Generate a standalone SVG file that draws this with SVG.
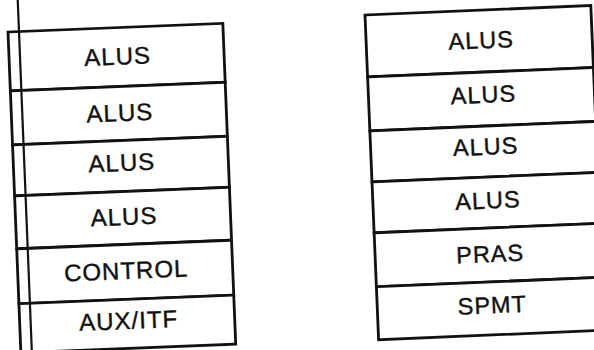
<svg xmlns="http://www.w3.org/2000/svg" width="594" height="350" viewBox="0 0 594 350">
<style>
  .cell rect { fill: #ffffff; stroke: #111; stroke-width: 2.8; }
  .cell text { font-family: "Liberation Sans", Arial, sans-serif; font-size: 24px; fill: #111; stroke: #111; stroke-width: 0.4; text-anchor: middle; letter-spacing: 1px; }
  .right .cell text { font-size: 23.5px; }
  .bus { stroke: #111; stroke-width: 2.2; fill: none; }
</style>
<rect x="0" y="0" width="594" height="350" fill="#ffffff"/>
<g id="left-stack" transform="translate(8,32) rotate(-2.3)">
  <g id="l-alus-1" class="cell"><rect x="0" y="0" width="215" height="59"/><text x="108.5" y="37">ALUS</text></g>
  <g id="l-alus-2" class="cell"><rect x="0" y="59" width="215" height="54"/><text x="108.5" y="93.5">ALUS</text></g>
  <g id="l-alus-3" class="cell"><rect x="0" y="113" width="215" height="51"/><text x="108.5" y="143.5">ALUS</text></g>
  <g id="l-alus-4" class="cell"><rect x="0" y="164" width="215" height="53"/><text x="108.5" y="197.5">ALUS</text></g>
  <g id="l-control" class="cell"><rect x="0" y="217" width="215" height="55"/><text x="108.5" y="251.5">CONTROL</text></g>
  <g id="l-auxitf" class="cell"><rect x="0" y="272" width="215" height="49"/><text x="109" y="301.5">AUX/ITF</text></g>
</g>
<g id="right-stack" class="right" transform="translate(365,15) rotate(-2.4)">
  <g id="r-alus-1" class="cell"><rect x="0" y="0" width="226" height="62"/><text x="115" y="38.2">ALUS</text></g>
  <g id="r-alus-2" class="cell"><rect x="0" y="62" width="226" height="54"/><text x="115" y="92.7">ALUS</text></g>
  <g id="r-alus-3" class="cell"><rect x="0" y="116" width="226" height="51"/><text x="115" y="144.7">ALUS</text></g>
  <g id="r-alus-4" class="cell"><rect x="0" y="167" width="226" height="51"/><text x="115" y="198.5">ALUS</text></g>
  <g id="r-pras" class="cell"><rect x="0" y="218" width="226" height="54"/><text x="115" y="252">PRAS</text></g>
  <g id="r-spmt" class="cell"><rect x="0" y="272" width="226" height="53"/><text x="115" y="303.3">SPMT</text></g>
</g>
<g id="connectors" transform="translate(8,32) rotate(-2.3)">
  <line class="bus" x1="11" y1="-40" x2="11" y2="345"/>
</g>
</svg>
